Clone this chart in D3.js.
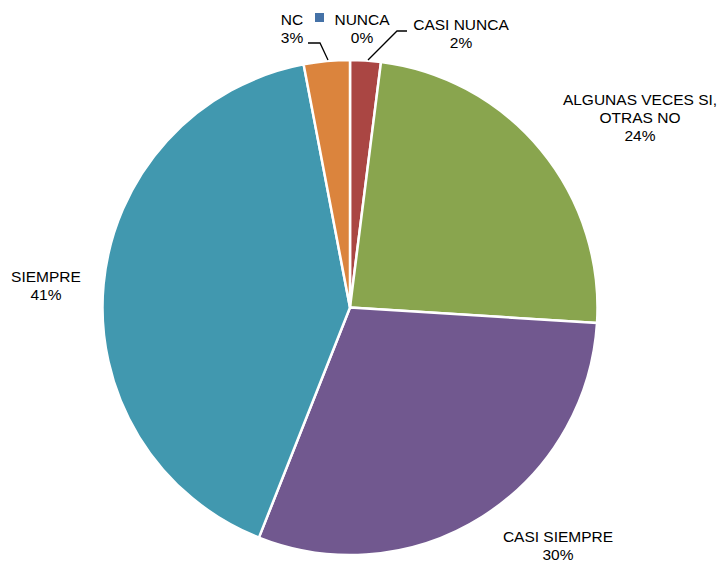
<!DOCTYPE html>
<html>
<head>
<meta charset="utf-8">
<script src="https://cdn.jsdelivr.net/npm/d3@7/dist/d3.min.js"></script>
<style>
  html, body { margin: 0; padding: 0; background: #fff; }
  text { font-family: "Liberation Sans", Arial, sans-serif; font-size: 15.5px; fill: #000; }
</style>
</head>
<body>
<svg id="chart" width="721" height="563"></svg>
<script>
// Survey answers, clockwise from 12 o'clock
const categories = ["NUNCA", "CASI NUNCA", "ALGUNAS VECES SI, OTRAS NO", "CASI SIEMPRE", "SIEMPRE", "NC"];
const values = [0, 2, 24, 30, 41, 3];
const colors = ["#4572A7", "#AA4643", "#89A54E", "#71588F", "#4198AF", "#DB843D"];

// label text lines per category
const labelLines = [
  ["NUNCA"], ["CASI NUNCA"], ["ALGUNAS VECES SI,", "OTRAS NO"],
  ["CASI SIEMPRE"], ["SIEMPRE"], ["NC"]
];
// label anchor (centre x, first baseline y)
const labelPos = [
  [362, 25], [461, 30], [640, 105], [558, 542], [46, 282], [292, 25]
];

const svg = d3.select("#chart");
const cx = 350, cy = 307.5, r = 247.5;

const total = d3.sum(values);
const pie = d3.pie().sort(null).value(d => d)(values);
const arc = d3.arc().innerRadius(0).outerRadius(r);

const g = svg.append("g").attr("transform", `translate(${cx},${cy})`);
g.selectAll("path")
  .data(pie)
  .join("path")
  .attr("d", arc)
  .attr("fill", (d, i) => colors[i])
  .attr("stroke", "#fff")
  .attr("stroke-width", 2.5)
  .attr("stroke-linejoin", "round");

// leader lines for the small slices at the top
const leaders = [
  [[308, 43], [320, 43], [328, 60]],
  [[407, 31], [397, 31], [368, 60]]
];
svg.selectAll("polyline.leader")
  .data(leaders)
  .join("polyline")
  .attr("class", "leader")
  .attr("points", d => d.map(p => p.join(",")).join(" "))
  .attr("fill", "none")
  .attr("stroke", "#000")
  .attr("stroke-width", 1.3);

// legend key beside the zero-value label
svg.append("rect")
  .attr("x", 315).attr("y", 13).attr("width", 9).attr("height", 9)
  .attr("fill", colors[0]);

const lh = 18;
categories.forEach((c, i) => {
  const pct = Math.round(values[i] / total * 100) + "%";
  const lines = labelLines[i].concat([pct]);
  const t = svg.append("text")
    .attr("text-anchor", "middle")
    .attr("x", labelPos[i][0])
    .attr("y", labelPos[i][1]);
  lines.forEach((l, k) => {
    t.append("tspan")
      .attr("x", labelPos[i][0])
      .attr("dy", k === 0 ? 0 : lh)
      .text(l);
  });
});
</script>
</body>
</html>
